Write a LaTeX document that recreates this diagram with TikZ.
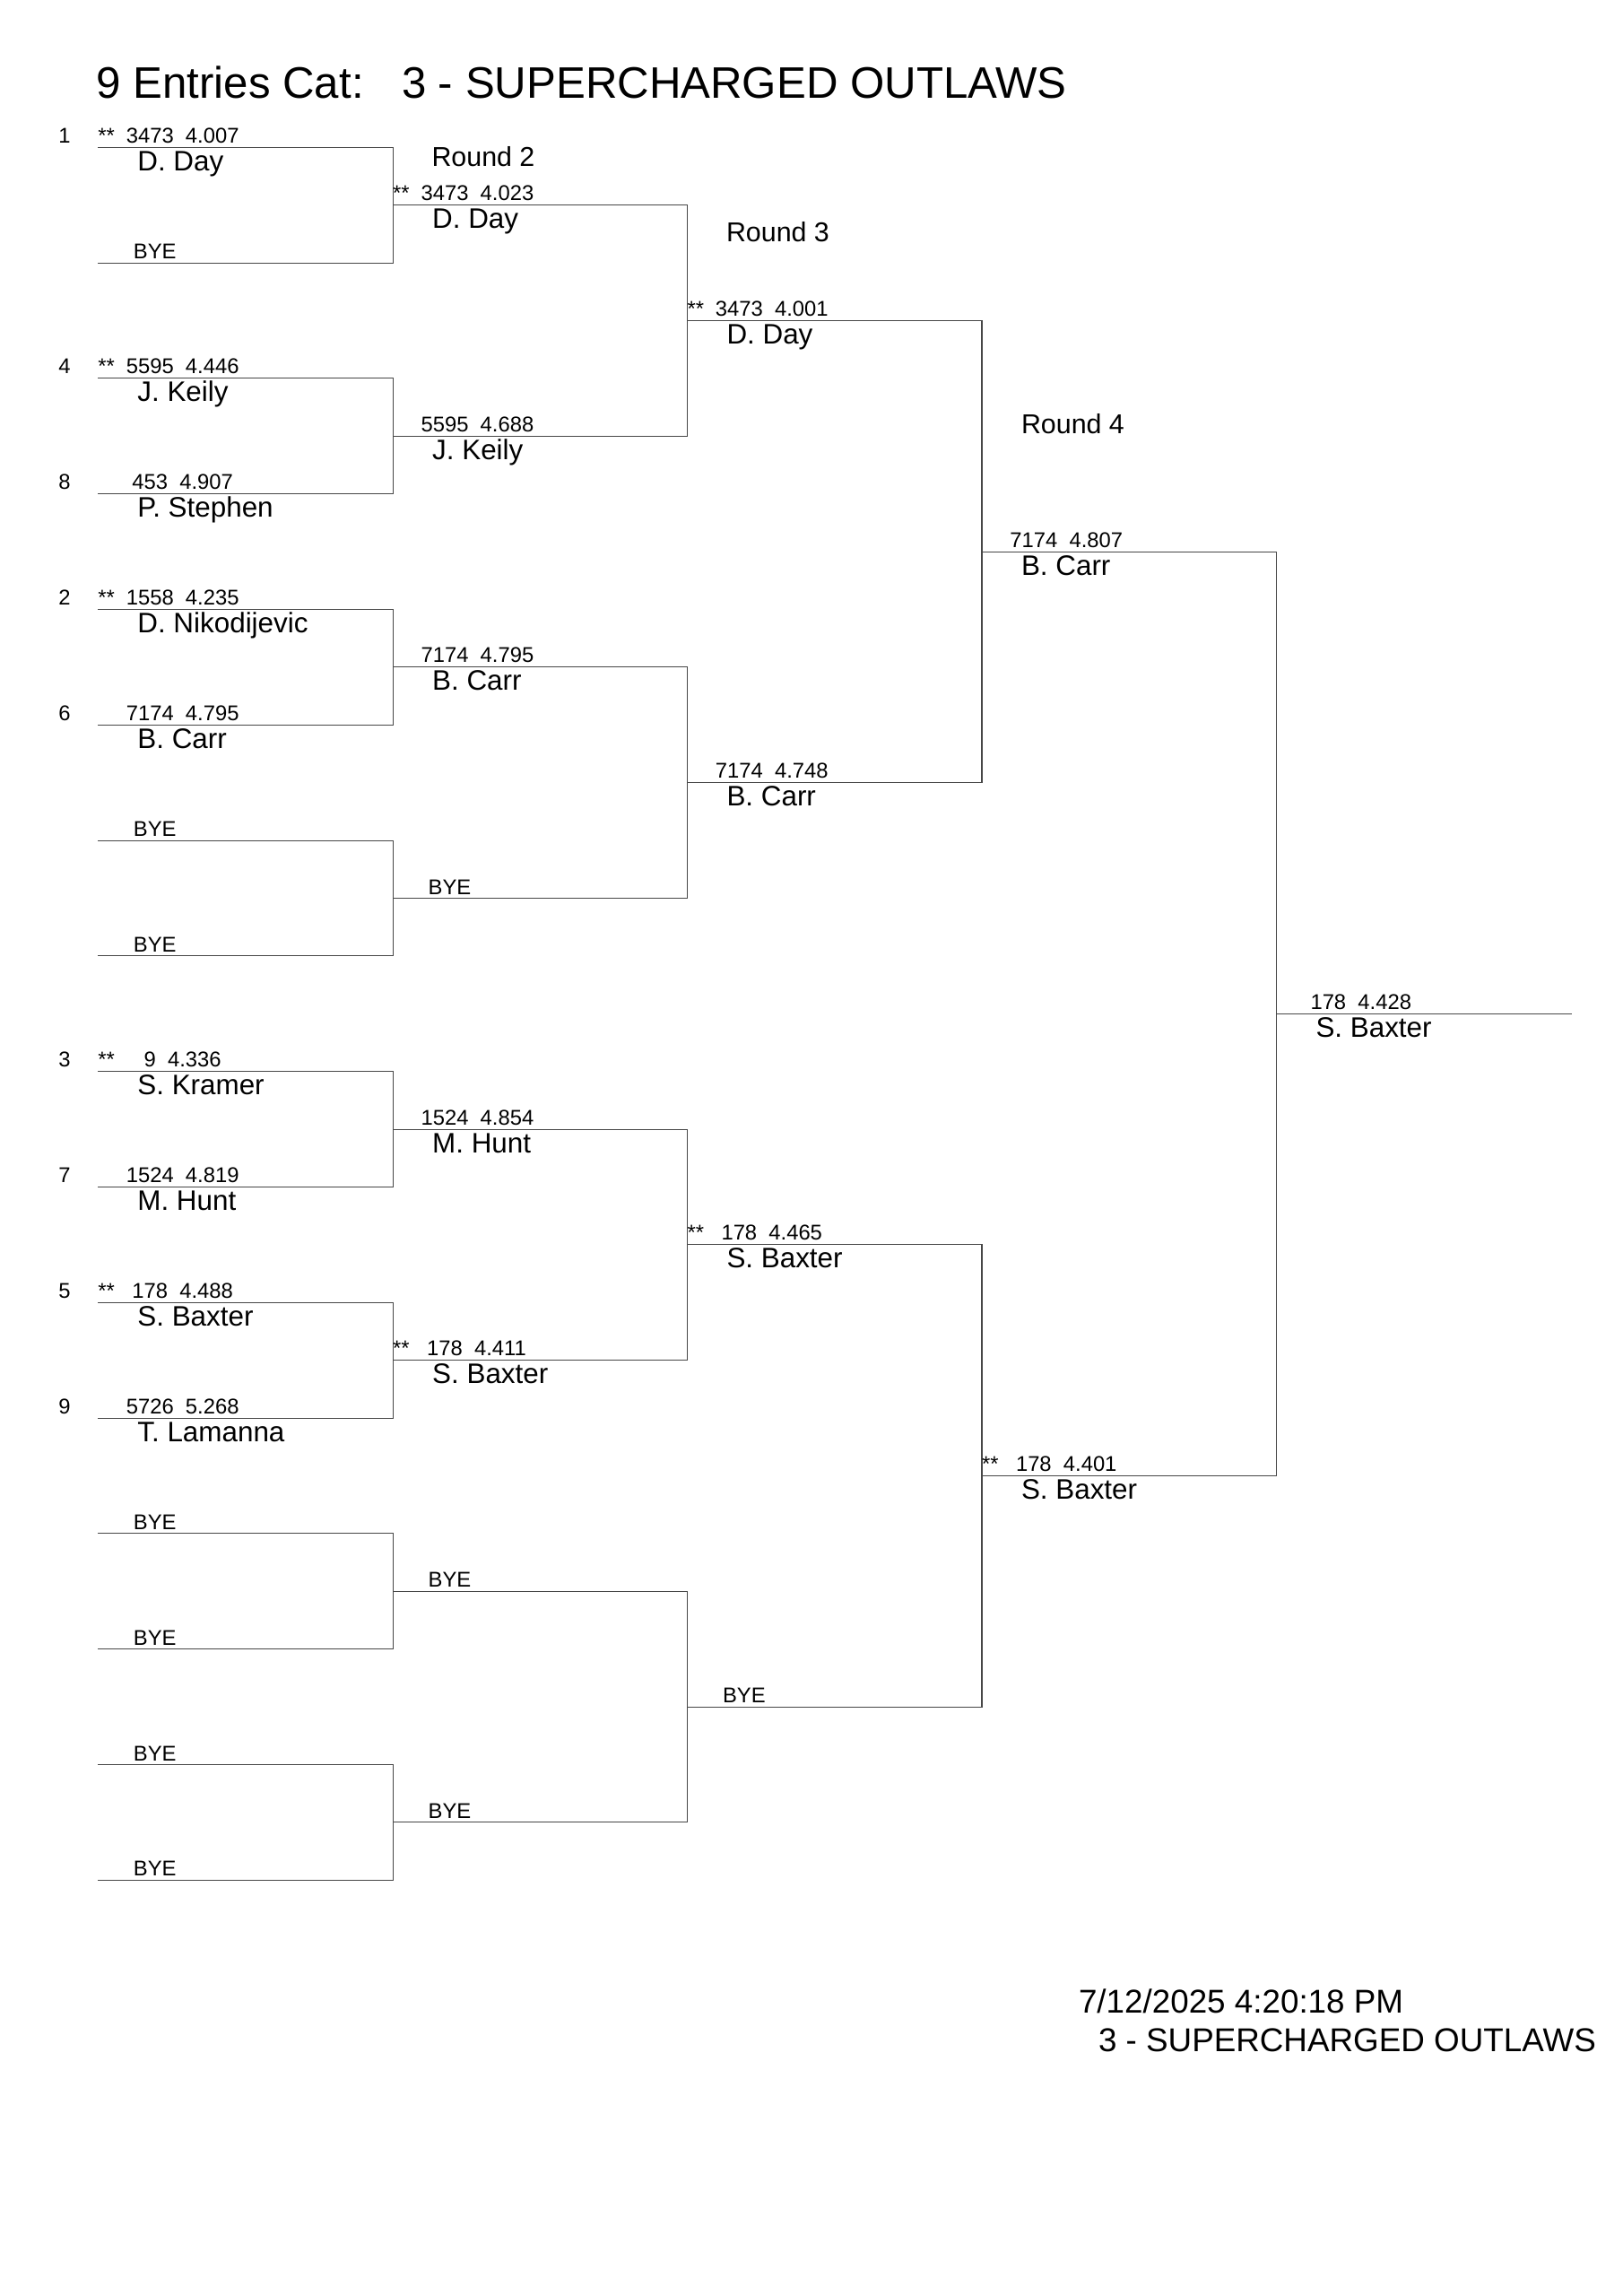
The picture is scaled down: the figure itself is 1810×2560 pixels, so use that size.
\documentclass[tikz,border=0pt]{standalone}
\usepackage{fontspec}
\setmainfont{Liberation Sans}
\usetikzlibrary{calc}
\tikzset{
  bline/.style={draw=black!72, line width=0.55pt, line cap=rect},
  txt/.style={anchor=base west, inner sep=0pt, outer sep=0pt},
  small/.style={txt, font=\fontsize{11.9pt}{14pt}\selectfont},
  pname/.style={txt, font=\fontsize{15.7pt}{18pt}\selectfont},
  rnd/.style={txt, font=\fontsize{15.2pt}{18pt}\selectfont},
  ttl/.style={txt, font=\fontsize{24.6pt}{29pt}\selectfont},
  stamp/.style={txt, font=\fontsize{18.4pt}{22pt}\selectfont},
}
\newcommand\padsp[1]{\hspace*{#1\fontdimen2\font}}
\newcommand\entcore[6]{%
  \node[small] (sc-#1-#2) at ($(L-#1-#2)+(31.4,-5)$) {\padsp{#3}#4\padsp{2}#5};
  \node[pname] (nm-#1-#2) at ($(L-#1-#2)+(44,26)$) {#6};}
\newcommand\entS[6]{%
  \node[small] (st-#1-#2) at ($(L-#1-#2)+(0,-5)$) {**};%
  \entcore{#1}{#2}{#3}{#4}{#5}{#6}}
\newcommand\ent[6]{\entcore{#1}{#2}{#3}{#4}{#5}{#6}}
\newcommand\bye[2]{\node[small] (by-#1-#2) at ($(L-#1-#2)+(39.5,-4.5)$) {BYE};}
\newcommand\seed[2]{\node[small] (sd-#1) at ($(L-1-#1)+(-44,-5)$) {#2};}
\begin{document}
\begin{tikzpicture}[x=0.5pt,y=-0.5pt]
\fill[white] (0,0) rectangle (1810,2560);
\useasboundingbox (0,0) rectangle (1810,2560);
% bracket lines
\foreach \r/\n/\xl/\xr/\yo/\ys in {1/15/109.4/438.2/164.3/128.8, 2/7/438.2/766.5/228.7/257.6, 3/3/766.5/1095/357.5/515.2, 4/1/1095/1423.5/615.1/1030.4, 5/0/1423.5/1752/1130.3/0}{
  \foreach \i in {0,...,\n}{
    \coordinate (L-\r-\i) at (\xl, {\yo+\ys*\i});
    \coordinate (R-\r-\i) at (\xr, {\yo+\ys*\i});
    \draw[bline] (L-\r-\i) -- (R-\r-\i);
  }
}
\foreach \r/\m in {1/7,2/3,3/1,4/0}{
  \foreach \k in {0,...,\m}{
    \pgfmathtruncatemacro\ka{2*\k}
    \pgfmathtruncatemacro\kb{2*\k+1}
    \draw[bline] (R-\r-\ka) -- (R-\r-\kb);
  }
}
% title
\node[ttl] (t1) at (107.7,109) {9 Entries Cat:};
\node[ttl] (t2) at (448,109) {3 - SUPERCHARGED OUTLAWS};
% round labels
\node[rnd] (rd2) at (481.5,185) {Round 2};
\node[rnd] (rd3) at (810,269.5) {Round 3};
\node[rnd] (rd4) at (1139,483.7) {Round 4};
% round 1
\seed{0}{1}\entS{1}{0}{0}{3473}{4.007}{D. Day}
\bye{1}{1}
\seed{2}{4}\entS{1}{2}{0}{5595}{4.446}{J. Keily}
\seed{3}{8}\ent{1}{3}{1}{453}{4.907}{P. Stephen}
\seed{4}{2}\entS{1}{4}{0}{1558}{4.235}{D. Nikodijevic}
\seed{5}{6}\ent{1}{5}{0}{7174}{4.795}{B. Carr}
\bye{1}{6}\bye{1}{7}
\seed{8}{3}\entS{1}{8}{3}{9}{4.336}{S. Kramer}
\seed{9}{7}\ent{1}{9}{0}{1524}{4.819}{M. Hunt}
\seed{10}{5}\entS{1}{10}{1}{178}{4.488}{S. Baxter}
\seed{11}{9}\ent{1}{11}{0}{5726}{5.268}{T. Lamanna}
\bye{1}{12}\bye{1}{13}\bye{1}{14}\bye{1}{15}
% round 2
\entS{2}{0}{0}{3473}{4.023}{D. Day}
\ent{2}{1}{0}{5595}{4.688}{J. Keily}
\ent{2}{2}{0}{7174}{4.795}{B. Carr}
\bye{2}{3}
\ent{2}{4}{0}{1524}{4.854}{M. Hunt}
\entS{2}{5}{1}{178}{4.411}{S. Baxter}
\bye{2}{6}\bye{2}{7}
% round 3
\entS{3}{0}{0}{3473}{4.001}{D. Day}
\ent{3}{1}{0}{7174}{4.748}{B. Carr}
\entS{3}{2}{1}{178}{4.465}{S. Baxter}
\bye{3}{3}
% round 4
\ent{4}{0}{0}{7174}{4.807}{B. Carr}
\entS{4}{1}{1}{178}{4.401}{S. Baxter}
% final
\ent{5}{0}{1}{178}{4.428}{S. Baxter}
% stamp
\node[stamp] (d1) at (1203,2244) {7/12/2025 4:20:18 PM};
\node[stamp] (d2) at (1225,2287.3) {3 - SUPERCHARGED OUTLAWS};
\end{tikzpicture}
\end{document}
